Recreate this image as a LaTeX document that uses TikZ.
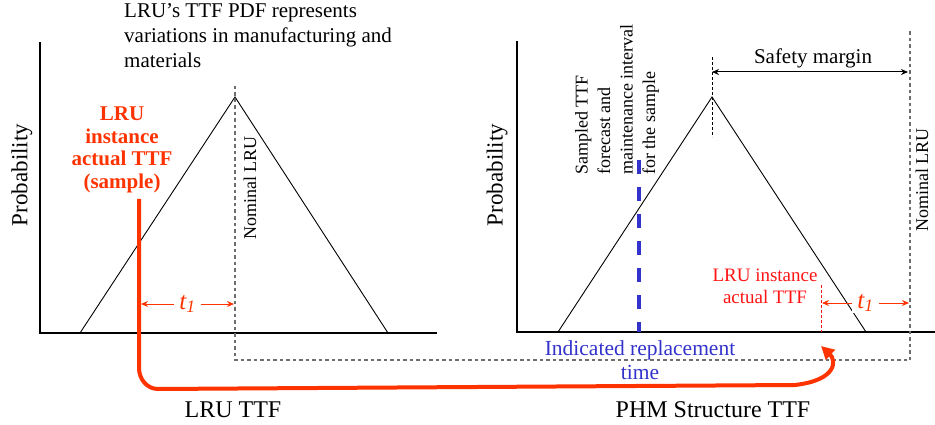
\documentclass[tikz,border=0pt]{standalone}
\usepackage{fontspec}
\setmainfont{Liberation Serif}
\usepackage{xcolor}
\usetikzlibrary{arrows.meta}
\definecolor{SampleRed}{RGB}{255,51,0}
\definecolor{InstRed}{RGB}{255,20,20}
\definecolor{ReplBlue}{RGB}{51,51,204}
\definecolor{NomGray}{RGB}{110,110,110}

\begin{document}
\begin{tikzpicture}[x=1pt, y=-1pt,
    axis/.style={line width=1.5pt},
    pdf/.style={line width=0.9pt},
    nomline/.style={NomGray, line width=1.2pt, dash pattern=on 3.5pt off 3pt},
    txt/.style={inner sep=0pt, font=\fontsize{21}{25}\selectfont},
    vtxt/.style={inner sep=0pt, rotate=90, font=\fontsize{18}{22.5}\selectfont},
    captxt/.style={inner sep=0pt, font=\fontsize{24}{28}\selectfont},
    dimarr/.style={{Stealth[length=7pt,width=6pt]}-{Stealth[length=7pt,width=6pt]}, line width=1pt},
    tlbl/.style={fill=white, inner xsep=5pt, inner ysep=1pt, font=\fontsize{25}{28}\selectfont\itshape}
]
\useasboundingbox (0,0) rectangle (935,425);

% left plot: LRU TTF
\coordinate (lo) at (40,333);
\draw[axis] (40,42) -- (lo) -- (437,333);
\coordinate (lpeak) at (235,97);
\draw[pdf] (80,333) -- (lpeak) -- (388,333);
\node[txt, anchor=north west, align=left] (pdfnote) at (124,3)
    {LRU’s TTF PDF represents\\variations in manufacturing and\\materials};
\node[vtxt, font=\fontsize{23}{27}\selectfont] (lprob) at (22,175) {Probability};
\node[vtxt] (lnom) at (250,188) {Nominal LRU};
\node[txt, align=center, text=SampleRed, font=\fontsize{21}{22.5}\selectfont\bfseries]
    (sample) at (122,150) {LRU\\instance\\actual TTF\\(sample)};
\node[captxt] (lcap) at (233,410) {LRU TTF};

% right plot: PHM Structure TTF
\draw[axis] (517,41) -- (517,332) -- (935,332);
\coordinate (rpeak) at (712,97);
\draw[pdf] (558,332) -- (rpeak) -- (866,332);
\draw[line width=0.8pt, dash pattern=on 3pt off 2pt] (712,57) -- (712,137);
\node[vtxt, font=\fontsize{23}{27}\selectfont] (rprob) at (497,175) {Probability};
\node[vtxt, anchor=west, align=left] (forecast) at (617,175)
    {Sampled TTF\\forecast and\\maintenance interval\\for the sample};
\node[vtxt] (rnom) at (922,180) {Nominal LRU};
\node[txt] (safety) at (813,58) {Safety margin};
\coordinate (sm1) at (712,72);
\coordinate (sm2) at (908,72);
\draw[dimarr] (sm1) -- (sm2);
\node[txt, align=center, text=InstRed, font=\fontsize{19}{22}\selectfont]
    (instance) at (765,286) {LRU instance\\actual TTF};
\node[txt, align=center, text=ReplBlue, font=\fontsize{21.5}{24}\selectfont]
    (repl) at (640,360) {Indicated replacement\\time};
\node[captxt] (rcap) at (713,410) {PHM Structure TTF};

% nominal LRU reference line carried across
\coordinate (nomtop) at (235,86);
\coordinate (nomright) at (910,30);
\draw[nomline] (nomtop) -- (235,360) -- (910,360) -- (nomright);

% indicated replacement and actual instance markers
\draw[ReplBlue, line width=4pt, dash pattern=on 14pt off 13pt] (639,160) -- (639,332);
\coordinate (inst) at (821,285);
\draw[InstRed, line width=0.8pt, dash pattern=on 3pt off 2pt] (inst) -- (821,332);

% t1 offsets
\coordinate (lt1a) at (141,304);
\coordinate (lt1b) at (234,304);
\draw[dimarr, SampleRed] (lt1a) -- node[tlbl, text=SampleRed] {t\textsubscript{1}} (lt1b);
\coordinate (rt1a) at (822,303);
\coordinate (rt1b) at (909,303);
\draw[dimarr, SampleRed] (rt1a) -- node[tlbl, text=SampleRed] {t\textsubscript{1}} (rt1b);

% sample carried to PHM structure
\coordinate (stop) at (139,199);
\coordinate (stip) at (821,346);
\draw[SampleRed, line width=4pt, -{Triangle[length=13pt,width=13pt]}]
    (stop) -- (139,368) to[out=-90,in=180] (158,389) -- (795,385)
    .. controls (838,380) and (836,360) .. (stip);
\end{tikzpicture}
\end{document}
